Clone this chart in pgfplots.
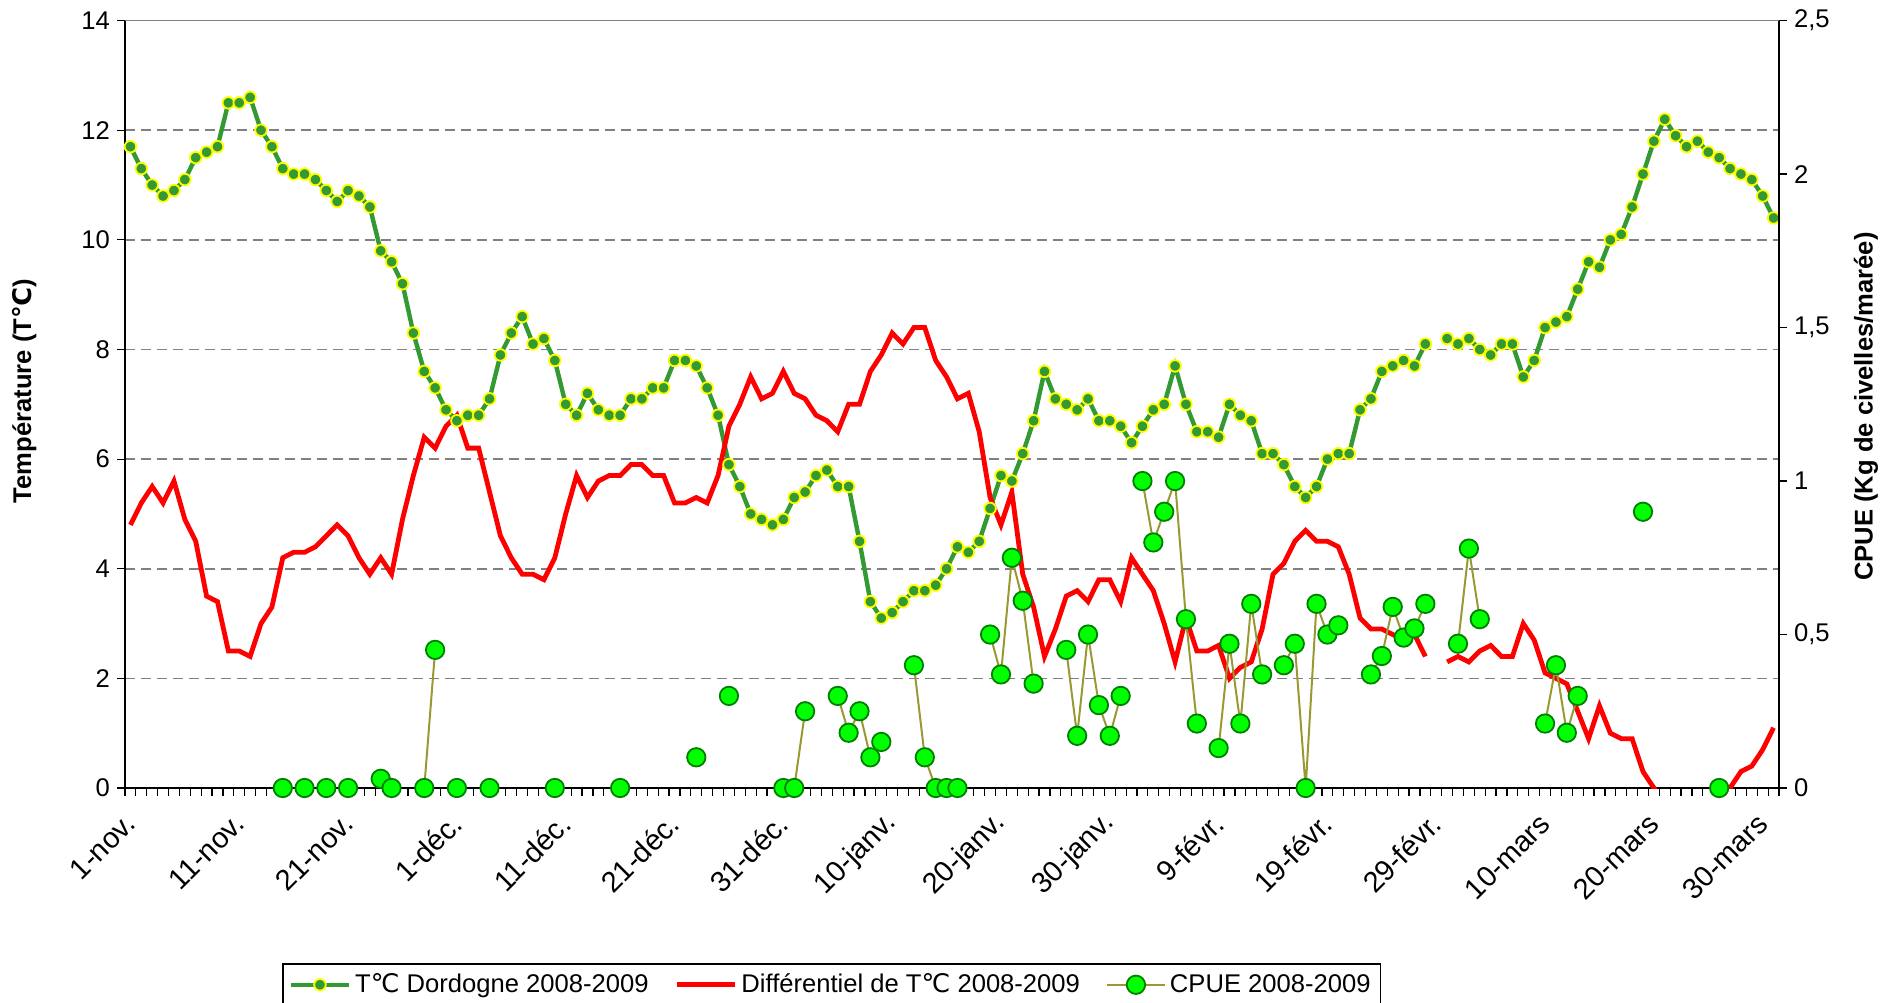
\documentclass[border=0pt]{standalone}
\usepackage{fontspec}
\setmainfont{Liberation Sans}
\newfontfamily\symfont{DejaVu Sans}
\usepackage{pgfplots}
\pgfplotsset{compat=1.18}
\usepackage{pgfplotstable}

\definecolor{tgreen}{HTML}{339933}
\definecolor{tyellow}{HTML}{FFFF00}
\definecolor{cpuefill}{HTML}{00FF00}
\definecolor{cpueedge}{HTML}{008000}
\definecolor{cpueline}{HTML}{999933}
\definecolor{gridgray}{HTML}{808080}

\newcommand\chartfont{\fontsize{12.8}{15}\selectfont}
\newcommand\datefont{\fontsize{14.5}{17}\selectfont}
\newcommand\degC{{\symfont ℃}}

% d = day index from 1-nov (29-févr has no data)
\pgfplotstableread{
d T D C
0 11.7 4.8 nan
1 11.3 5.2 nan
2 11.0 5.5 nan
3 10.8 5.2 nan
4 10.9 5.6 nan
5 11.1 4.9 nan
6 11.5 4.5 nan
7 11.6 3.5 nan
8 11.7 3.4 nan
9 12.5 2.5 nan
10 12.5 2.5 nan
11 12.6 2.4 nan
12 12.0 3.0 nan
13 11.7 3.3 nan
14 11.3 4.2 0
15 11.2 4.3 nan
16 11.2 4.3 0
17 11.1 4.4 nan
18 10.9 4.6 0
19 10.7 4.8 nan
20 10.9 4.6 0
21 10.8 4.2 nan
22 10.6 3.9 nan
23 9.8 4.2 0.03
24 9.6 3.9 0
25 9.2 4.9 nan
26 8.3 5.7 nan
27 7.6 6.4 0
28 7.3 6.2 0.45
29 6.9 6.6 nan
30 6.7 6.8 0
31 6.8 6.2 nan
32 6.8 6.2 nan
33 7.1 5.4 0
34 7.9 4.6 nan
35 8.3 4.2 nan
36 8.6 3.9 nan
37 8.1 3.9 nan
38 8.2 3.8 nan
39 7.8 4.2 0
40 7.0 5.0 nan
41 6.8 5.7 nan
42 7.2 5.3 nan
43 6.9 5.6 nan
44 6.8 5.7 nan
45 6.8 5.7 0
46 7.1 5.9 nan
47 7.1 5.9 nan
48 7.3 5.7 nan
49 7.3 5.7 nan
50 7.8 5.2 nan
51 7.8 5.2 nan
52 7.7 5.3 0.10
53 7.3 5.2 nan
54 6.8 5.7 nan
55 5.9 6.6 0.30
56 5.5 7.0 nan
57 5.0 7.5 nan
58 4.9 7.1 nan
59 4.8 7.2 nan
60 4.9 7.6 0
61 5.3 7.2 0
62 5.4 7.1 0.25
63 5.7 6.8 nan
64 5.8 6.7 nan
65 5.5 6.5 0.30
66 5.5 7.0 0.18
67 4.5 7.0 0.25
68 3.4 7.6 0.10
69 3.1 7.9 0.15
70 3.2 8.3 nan
71 3.4 8.1 nan
72 3.6 8.4 0.40
73 3.6 8.4 0.10
74 3.7 7.8 0
75 4.0 7.5 0
76 4.4 7.1 0
77 4.3 7.2 nan
78 4.5 6.5 nan
79 5.1 5.3 0.50
80 5.7 4.8 0.37
81 5.6 5.4 0.75
82 6.1 3.9 0.61
83 6.7 3.3 0.34
84 7.6 2.4 nan
85 7.1 2.9 nan
86 7.0 3.5 0.45
87 6.9 3.6 0.17
88 7.1 3.4 0.50
89 6.7 3.8 0.27
90 6.7 3.8 0.17
91 6.6 3.4 0.30
92 6.3 4.2 nan
93 6.6 3.9 1.00
94 6.9 3.6 0.80
95 7.0 3.0 0.90
96 7.7 2.3 1.00
97 7.0 3.1 0.55
98 6.5 2.5 0.21
99 6.5 2.5 nan
100 6.4 2.6 0.13
101 7.0 2.0 0.47
102 6.8 2.2 0.21
103 6.7 2.3 0.60
104 6.1 2.9 0.37
105 6.1 3.9 nan
106 5.9 4.1 0.40
107 5.5 4.5 0.47
108 5.3 4.7 0
109 5.5 4.5 0.60
110 6.0 4.5 0.50
111 6.1 4.4 0.53
112 6.1 3.9 nan
113 6.9 3.1 nan
114 7.1 2.9 0.37
115 7.6 2.9 0.43
116 7.7 2.8 0.59
117 7.8 2.7 0.49
118 7.7 2.8 0.52
119 8.1 2.4 0.60
120 nan nan nan
121 8.2 2.3 nan
122 8.1 2.4 0.47
123 8.2 2.3 0.78
124 8.0 2.5 0.55
125 7.9 2.6 nan
126 8.1 2.4 nan
127 8.1 2.4 nan
128 7.5 3.0 nan
129 7.8 2.7 nan
130 8.4 2.1 0.21
131 8.5 2.0 0.40
132 8.6 1.9 0.18
133 9.1 1.4 0.30
134 9.6 0.9 nan
135 9.5 1.5 nan
136 10.0 1.0 nan
137 10.1 0.9 nan
138 10.6 0.9 nan
139 11.2 0.3 0.90
140 11.8 0.0 nan
141 12.2 -0.3 nan
142 11.9 -0.5 nan
143 11.7 -0.6 nan
144 11.8 -0.6 nan
145 11.6 -0.5 nan
146 11.5 -0.3 0
147 11.3 0.0 nan
148 11.2 0.3 nan
149 11.1 0.4 nan
150 10.8 0.7 nan
151 10.4 1.1 nan
}\dordogne

\pgfplotsset{
  tstyle/.style={tgreen, line width=2.2pt, mark=*, mark size=2.9pt,
    mark options={fill=tgreen, draw=tyellow, line width=0.9pt}},
  dstyle/.style={red, line width=2.4pt, no markers},
  cstyle/.style={cpueline, line width=1pt, mark=*, mark size=4.6pt,
    mark options={fill=cpuefill, draw=cpueedge, line width=0.9pt}},
  common/.style={
    at={(62.5pt,107pt)}, anchor=south west,
    scale only axis, width=827pt, height=383.7pt,
    xmin=-0.5, xmax=151.5,
    unbounded coords=jump,
    tick align=outside, major tick length=4pt, minor tick length=4pt,
    tick style={black, line width=0.6pt},
    axis line style={black, line width=1pt},
    ticklabel style={font=\chartfont},
    /pgf/number format/assume math mode=true,
  },
}

\begin{document}
\begin{tikzpicture}[x=1pt,y=1pt]
\path[use as bounding box] (0,0) rectangle (948,501);
\begin{axis}[
  common,
  ymin=0, ymax=14, ytick={0,2,...,14},
  axis x line*=bottom, axis y line*=left,
  ymajorgrids, grid style={gridgray, dash pattern=on 5pt off 3pt, line width=0.8pt},
  xtick={0,10,...,150},
  xticklabels={1-nov.,11-nov.,21-nov.,1-déc.,11-déc.,21-déc.,31-déc.,10-janv.,20-janv.,30-janv.,9-févr.,19-févr.,29-févr.,10-mars,20-mars,30-mars},
  minor xtick={-0.5,0.5,...,151.5},
  major x tick style={draw=none},
  xticklabel style={yshift=-11.3pt, rotate=45, anchor=east, inner sep=0pt, font=\datefont},
  ylabel={Température (T\degC)},
  ylabel style={at={(axis description cs:-0.061,0.517)}, anchor=center, font=\chartfont\bfseries},
]
\draw[gridgray, line width=0.8pt] (rel axis cs:0,1) -- (rel axis cs:1,1);
\addplot[tstyle] table[x=d, y=T] {\dordogne};
\addplot[dstyle] table[x=d, y=D] {\dordogne};
\end{axis}
\begin{axis}[
  common,
  ymin=0, ymax=2.5, ytick={0,0.5,...,2.5},
  axis x line=none, axis y line*=right,
  yticklabel style={/pgf/number format/use comma},
  ylabel={CPUE (Kg de civelles/marée)},
  ylabel style={at={(axis description cs:1.0526,0.497)}, anchor=center, font=\chartfont\bfseries},
  clip=false,
  legend columns=3,
  legend image code/.code={\draw[mark repeat=2,mark phase=2] plot coordinates {(0pt,0pt) (14.5pt,0pt) (29pt,0pt)};},
  legend style={at={(axis description cs:0.0949,-0.228)}, anchor=north west,
    draw=black, line width=0.8pt, font=\chartfont, inner sep=3pt,
    /tikz/every even column/.append style={column sep=11pt}},
  legend cell align=left,
]
\addlegendimage{tstyle}
\addlegendentry{T\degC\ Dordogne 2008-2009}
\addlegendimage{dstyle}
\addlegendentry{Différentiel de T\degC\ 2008-2009}
\addplot[cstyle] table[x=d, y=C] {\dordogne};
\addlegendentry{CPUE 2008-2009}
\end{axis}
\end{tikzpicture}
\end{document}
